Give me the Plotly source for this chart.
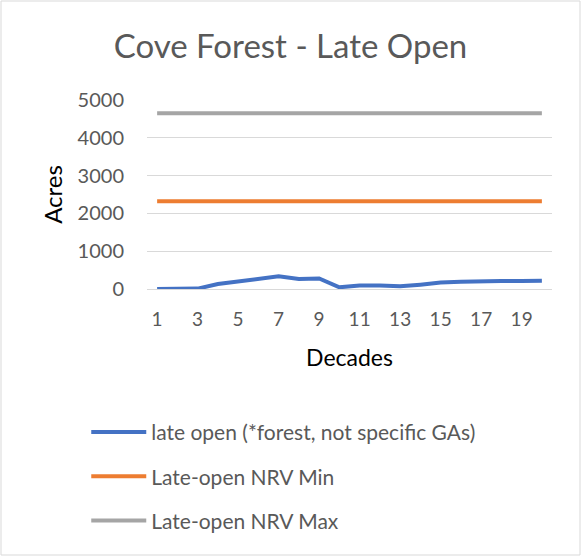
import plotly.graph_objs as go

# Données
decades = list(range(1, 21))
late_open = [0, 0, 10, 130, 200, 290, 335, 265, 280, 45,
             95, 95, 70, 115, 170, 195, 210, 210, 210, 220]
nrv_min = [2320] * 20
nrv_max = [4650] * 20
tick_labels = [str(d) if d % 2 == 1 else "" for d in decades]

font_family = "Lato, 'Open Sans', sans-serif"
grey_text = "#595959"

fig = go.Figure()

series = [
    ("late open (*forest, not specific GAs)", late_open, "#4472c4"),
    ("Late-open NRV Min", nrv_min, "#ed7d31"),
    ("Late-open NRV Max", nrv_max, "#a5a5a5"),
]
for name, values, color in series:
    fig.add_trace(go.Scatter(
        x=decades,
        y=values,
        name=name,
        mode="lines",
        legendgroup=name,
        line=dict(color=color, width=4),
    ))

fig.update_layout(
    width=581,
    height=556,
    margin=dict(l=147, r=29, t=100, b=267),
    paper_bgcolor="white",
    plot_bgcolor="white",
    title=dict(
        text="Cove Forest - Late Open",
        x=0.5, xanchor="center",
        y=1 - 46 / 556, yanchor="middle",
        font=dict(family=font_family, size=33, color=grey_text),
    ),
    xaxis=dict(
        range=[0.5, 20.5],
        tickmode="array",
        tickvals=decades,
        ticktext=tick_labels,
        showgrid=False,
        zeroline=False,
        ticks="",
        ticklabelstandoff=17,
        tickfont=dict(family=font_family, size=19, color=grey_text),
        title=dict(text="Decades", font=dict(family=font_family, size=23, color="black"), standoff=20),
        fixedrange=True,
    ),
    yaxis=dict(
        range=[0, 5000],
        tickvals=[0, 1000, 2000, 3000, 4000, 5000],
        showgrid=True,
        gridcolor="#d9d9d9",
        gridwidth=1,
        zeroline=True,
        zerolinecolor="#d9d9d9",
        zerolinewidth=1,
        ticks="",
        ticklabelstandoff=22,
        tickfont=dict(family=font_family, size=20, color=grey_text),
        title=dict(text="Acres", font=dict(family=font_family, size=24, color="black"), standoff=8),
        fixedrange=True,
    ),
    legend=dict(
        orientation="v",
        x=-0.15,
        xanchor="left",
        y=-0.65,
        yanchor="top",
        tracegroupgap=14,
        itemwidth=55,
        font=dict(family=font_family, size=21, color=grey_text),
    ),
    showlegend=True,
)

# Bordure du graphique
fig.add_shape(
    type="rect", xref="paper", yref="paper",
    x0=-146 / 405, x1=1 + 28 / 405, y0=-266 / 189, y1=1 + 99 / 189,
    line=dict(color="#d9d9d9", width=1),
)

fig.write_html(
    "out.html",
    config={"displayModeBar": False},
    post_script="document.body.style.margin='0';",
)
